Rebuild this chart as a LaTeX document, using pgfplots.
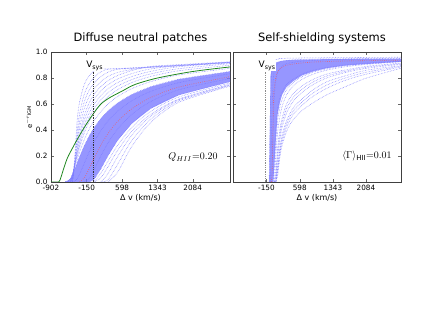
\documentclass[border=0pt]{standalone}
\usepackage{fontspec}
\setmainfont{DejaVu Sans}
\usepackage{pgfplots}
\pgfplotsset{compat=1.18}
\usepackage{pgfplotstable}

\definecolor{dotblue}{RGB}{125,125,255}
\definecolor{bandcol}{RGB}{120,120,255}
\definecolor{medred}{RGB}{245,90,90}
\definecolor{grn}{RGB}{30,135,30}

\pgfplotstableread{
v u1 u1b u2 u2b u3 u3b u4 u4b u5 u6 bu m1 med m2 bl l0 l1 l2 l3 l4
-902 nan nan nan nan nan nan nan nan nan nan nan nan nan nan nan nan nan nan nan nan
-600 nan nan nan nan nan nan nan 0 0 0 0 nan nan nan nan nan nan nan nan nan
-500 nan nan nan nan 0 0 0 0.005 0.010 0.020 0.022 nan nan nan nan nan nan nan nan nan
-450 0 0 0 0 0.018 0.032 0.045 0.052 0.058 0.063 0.057 0 nan nan nan nan nan nan nan nan
-400 0.20 0.162 0.156 0.146 0.135 0.135 0.135 0.132 0.128 0.118 0.101 0.006 nan nan nan nan nan nan nan nan
-350 0.475 0.386 0.339 0.302 0.264 0.247 0.229 0.215 0.200 0.175 0.148 0.026 nan nan nan nan nan nan nan nan
-300 0.615 0.525 0.465 0.417 0.368 0.340 0.311 0.289 0.267 0.230 0.194 0.060 0 nan nan nan nan nan nan nan
-200 0.75 0.676 0.618 0.566 0.513 0.476 0.439 0.409 0.378 0.327 0.279 0.144 0.032 0 nan nan nan nan nan nan
-100 0.816 0.754 0.704 0.656 0.607 0.568 0.529 0.496 0.463 0.405 0.352 0.229 0.100 0.027 0 nan nan nan nan nan
0 0.854 0.803 0.758 0.714 0.670 0.633 0.595 0.562 0.528 0.469 0.414 0.304 0.178 0.091 0.018 0 0 nan nan nan
150 0.87 0.848 0.811 0.773 0.735 0.701 0.666 0.634 0.602 0.543 0.488 0.396 0.285 0.202 0.102 0.068 0.033 0 0 nan
300 0.87 0.868 0.845 0.812 0.779 0.748 0.717 0.687 0.657 0.600 0.547 0.470 0.373 0.301 0.202 0.161 0.119 0.065 0.018 0
500 0.872 0.870 0.867 0.843 0.819 0.792 0.764 0.737 0.710 0.657 0.607 0.544 0.465 0.407 0.319 0.281 0.242 0.194 0.135 0.074
800 0.878 0.876 0.873 0.865 0.857 0.834 0.811 0.788 0.765 0.718 0.673 0.625 0.563 0.520 0.449 0.419 0.389 0.359 0.319 0.273
1200 0.886 0.884 0.881 0.885 0.889 0.870 0.851 0.832 0.812 0.772 0.733 0.697 0.650 0.619 0.565 0.543 0.520 0.505 0.483 0.458
1800 0.898 0.896 0.893 0.898 0.903 0.895 0.887 0.872 0.856 0.824 0.791 0.765 0.731 0.710 0.670 0.655 0.639 0.634 0.625 0.614
2870 0.92 0.918 0.915 0.920 0.925 0.923 0.921 0.910 0.898 0.874 0.850 0.833 0.810 0.797 0.771 0.761 0.751 0.745 0.742 0.737
}\Ldata

\pgfplotstableread{
v Ra Rb Rc Rd Rde Re Rf Rfg Rg Rh Rhi Ri Rj
-902 nan nan nan nan nan nan nan nan nan nan nan nan nan
-90 0 nan nan nan nan nan nan nan nan nan nan nan nan
-60 0.60 0 nan nan nan nan nan nan nan nan nan nan nan
-30 0.86 0.50 0 nan nan nan nan nan nan nan nan nan nan
0 0.91 0.78 0.45 0 0 nan nan nan nan nan nan nan nan
30 0.93 0.86 0.68 0.25 0.125 0 0 0 nan nan nan nan nan
60 0.94 0.89 0.78 0.42 0.31 0.20 0.08 0.04 0 0 0 0 0
100 0.945 0.91 0.84 0.56 0.47 0.38 0.26 0.22 0.18 0.12 0.10 0.08 0.05
150 0.95 0.925 0.87 0.65 0.575 0.50 0.40 0.36 0.32 0.26 0.24 0.22 0.19
200 0.95 0.93 0.89 0.69 0.635 0.58 0.49 0.455 0.42 0.36 0.335 0.31 0.28
300 0.952 0.935 0.91 0.75 0.71 0.67 0.60 0.565 0.53 0.47 0.445 0.42 0.39
450 0.953 0.94 0.92 0.79 0.765 0.74 0.68 0.65 0.62 0.57 0.545 0.52 0.48
650 0.954 0.943 0.93 0.83 0.81 0.79 0.74 0.715 0.69 0.64 0.615 0.59 0.55
900 0.955 0.945 0.935 0.86 0.845 0.83 0.79 0.77 0.75 0.71 0.685 0.66 0.61
1200 0.956 0.947 0.94 0.88 0.87 0.86 0.83 0.815 0.80 0.77 0.745 0.72 0.67
1600 0.957 0.948 0.943 0.90 0.893 0.885 0.86 0.85 0.84 0.815 0.798 0.78 0.73
2100 0.958 0.95 0.945 0.915 0.91 0.905 0.89 0.883 0.875 0.86 0.845 0.83 0.80
2870 0.96 0.952 0.948 0.93 0.928 0.925 0.915 0.91 0.905 0.895 0.89 0.885 0.875
}\Rdata

\tikzset{dl/.style={color=dotblue, line width=0.55bp, dash pattern=on 0.55bp off 1.0bp, smooth}}
\pgfplotsset{
  panel/.style={scale only axis, height=130bp, xmin=-902, xmax=2870, ymin=0, ymax=1,
    xtick={-902,-150,598,1343,2084}, ytick={0,0.2,0.4,0.6,0.8,1.0},
    tick align=inside, major tick length=3bp,
    axis line style={black!75, line width=0.5bp},
    tick style={black!60, line width=0.4bp},
    ticklabel style={font=\fontsize{7.3}{8}\selectfont},
    xlabel={Δ v (km/s)}, xlabel style={font=\fontsize{8}{9}\selectfont, yshift=3bp}},
}

\begin{document}
\begin{tikzpicture}
\useasboundingbox (0bp,0bp) rectangle (445bp,314bp);
\begin{axis}[panel, at={(51bp,132bp)}, anchor=south west, width=179bp,
  xticklabels={-902,-150,598,1343,2084},
  yticklabels={0.0,0.2,0.4,0.6,0.8,1.0}]
\addplot[dl] table[x=v,y=u1]{\Ldata};
\addplot[dl] table[x=v,y=u1b]{\Ldata};
\addplot[dl] table[x=v,y=u2]{\Ldata};
\addplot[dl] table[x=v,y=u2b]{\Ldata};
\addplot[dl] table[x=v,y=u3]{\Ldata};
\addplot[dl] table[x=v,y=u3b]{\Ldata};
\addplot[dl] table[x=v,y=u4]{\Ldata};
\addplot[dl] table[x=v,y=u4b]{\Ldata};
\addplot[dl] table[x=v,y=u5]{\Ldata};
\addplot[dl] table[x=v,y=u6]{\Ldata};
\addplot[dl] table[x=v,y=m1]{\Ldata};
\addplot[dl] table[x=v,y=m2]{\Ldata};
\addplot[dl] table[x=v,y=l0]{\Ldata};
\addplot[dl] table[x=v,y=l1]{\Ldata};
\addplot[dl] table[x=v,y=l2]{\Ldata};
\addplot[dl] table[x=v,y=l3]{\Ldata};
\addplot[dl] table[x=v,y=l4]{\Ldata};
\addplot[draw=none, fill=bandcol, fill opacity=0.78] coordinates {(-600,0) (-500,0.022) (-450,0.057) (-400,0.101) (-350,0.148) (-300,0.194) (-200,0.279) (-100,0.352) (0,0.414) (150,0.488) (300,0.547) (500,0.607) (800,0.673) (1200,0.733) (1800,0.791) (2870,0.850) (2870,0.771) (1800,0.670) (1200,0.565) (800,0.449) (500,0.319) (300,0.202) (150,0.102) (0,0.018) (-100,0)};
\addplot[dl] table[x=v,y=bu]{\Ldata};
\addplot[dl] table[x=v,y=bl]{\Ldata};
\addplot[medred, line width=0.6bp, dash pattern=on 0.6bp off 1.6bp, smooth] table[x=v,y=med]{\Ldata};
\addplot[grn, line width=0.8bp, smooth] coordinates {(-902,0) (-740,0) (-712,0.015) (-680,0.05) (-620,0.12) (-550,0.19) (-450,0.26) (-361,0.32) (-200,0.42) (-11,0.525) (150,0.60) (341,0.65) (600,0.70) (868,0.75) (1343,0.80) (2084,0.85) (2870,0.885)};
\addplot[black!80, line width=0.6bp, dash pattern=on 0.6bp off 1.2bp] coordinates {(-17,0) (-17,0.86)};
\node[fill=white, inner sep=0.6bp, font=\fontsize{9}{10}\selectfont] at (axis cs:15,0.895) {V\raisebox{-0.25em}{\fontsize{6.3}{7}\selectfont sys}};
\node[font=\fontsize{10}{12}\selectfont] at (axis cs:2090,0.19) {$Q_{HII}{=}0.20$};
\end{axis}

\begin{axis}[panel, at={(233bp,132bp)}, anchor=south west, width=168bp,
  xticklabels={,-150,598,1343,2084}, yticklabels={}]
\addplot[dl] table[x=v,y=Ra]{\Rdata};
\addplot[dl] table[x=v,y=Rb]{\Rdata};
\addplot[dl] table[x=v,y=Rc]{\Rdata};
\addplot[dl] table[x=v,y=Rd]{\Rdata};
\addplot[dl] table[x=v,y=Rde]{\Rdata};
\addplot[dl] table[x=v,y=Re]{\Rdata};
\addplot[dl] table[x=v,y=Rf]{\Rdata};
\addplot[dl] table[x=v,y=Rfg]{\Rdata};
\addplot[dl] table[x=v,y=Rg]{\Rdata};
\addplot[dl] table[x=v,y=Rh]{\Rdata};
\addplot[dl] table[x=v,y=Rhi]{\Rdata};
\addplot[dl] table[x=v,y=Ri]{\Rdata};
\addplot[dl] table[x=v,y=Rj]{\Rdata};
\addplot[draw=none, fill=bandcol, fill opacity=0.78] coordinates {(-90,0) (-60,0.82) (-30,0.875) (0,0.90) (30,0.91) (60,0.918) (100,0.924) (150,0.928) (200,0.932) (300,0.936) (450,0.939) (650,0.941) (900,0.943) (1200,0.945) (1600,0.946) (2100,0.947) (2870,0.948) (2870,0.925) (2100,0.908) (1600,0.895) (1200,0.875) (900,0.85) (650,0.82) (450,0.775) (300,0.73) (200,0.67) (150,0.61) (100,0.52) (60,0.33) (30,0.15) (0,0)};
\addplot[medred, line width=0.6bp, dash pattern=on 0.6bp off 1.6bp, smooth] coordinates {(-40,0) (-26,0.05) (-10,0.3) (11,0.66) (45,0.77) (86,0.84) (150,0.87) (227,0.89) (400,0.905) (782,0.92) (1500,0.93) (2870,0.937)};
\addplot[black!45, line width=0.6bp, dash pattern=on 0.6bp off 1.2bp] coordinates {(-170,0) (-170,0.86)};
\node[fill=white, inner sep=0.6bp, font=\fontsize{9}{10}\selectfont] at (axis cs:-140,0.895) {V\raisebox{-0.25em}{\fontsize{6.3}{7}\selectfont sys}};
\node[font=\fontsize{10}{12}\selectfont] at (axis cs:2106,0.20) {$\langle\Gamma\rangle_{\mathrm{HII}}{=}0.01$};
\end{axis}

\node[anchor=base, font=\fontsize{11.5}{13}\selectfont] at (140.5bp,272bp) {Diffuse neutral patches};
\node[anchor=base, font=\fontsize{11.5}{13}\selectfont] at (322bp,272bp) {Self-shielding systems};
\node[rotate=90, font=\fontsize{7}{8}\selectfont] at (29bp,197bp) {e$^{-\tau_{\mathrm{IGM}}}$};
\end{tikzpicture}
\end{document}
